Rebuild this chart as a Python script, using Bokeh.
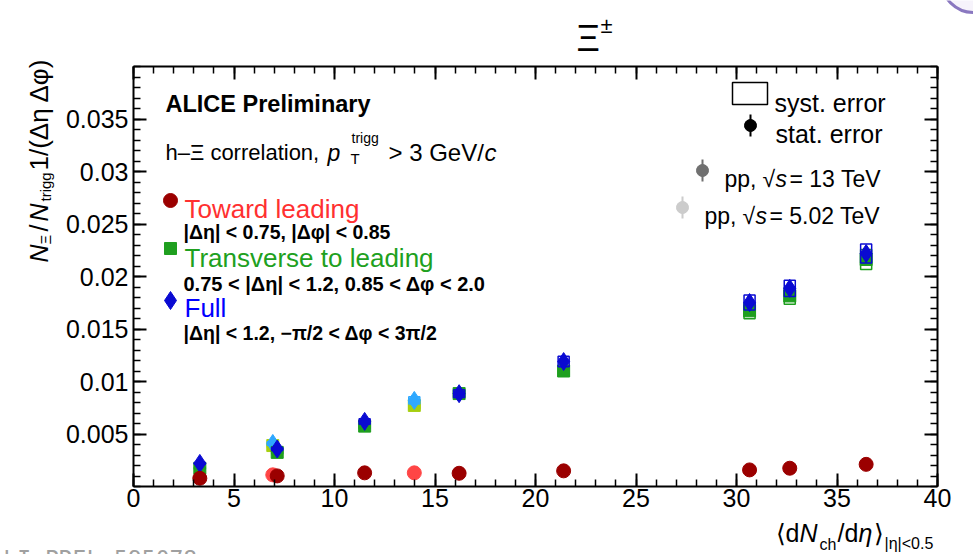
import math

from bokeh.plotting import figure
from bokeh.models import Range1d, LinearAxis, FixedTicker, Label
from bokeh.embed import file_html
from bokeh.resources import INLINE

# <dN_ch/deta> of the multiplicity classes
mult_13 = [3.3, 7.15, 11.5, 16.2, 21.4, 30.65, 32.65, 36.45]
mult_502 = [6.93, 13.97]

# per-trigger Xi yields, pp 13 TeV
toward_13 = [0.00078, 0.00101, 0.00130, 0.00126, 0.00149, 0.00158, 0.00174, 0.00211]
transverse_13 = [0.00173, 0.00325, 0.00575, 0.00885, 0.01100, 0.01673, 0.01815, 0.02162]
full_13 = [0.00220, 0.00357, 0.00620, 0.00884, 0.01190, 0.01752, 0.01887, 0.02219]

# per-trigger Xi yields, pp 5.02 TeV
toward_502 = [0.00111, 0.00130]
transverse_502 = [0.00390, 0.00772]
full_502 = [0.00410, 0.00820]

# statistical uncertainties
toward_13_stat = [0.00005, 0.00005, 0.00005, 0.00005, 0.00006, 0.00007, 0.00007, 0.00008]
transverse_13_stat = [0.00010, 0.00012, 0.00015, 0.00018, 0.00022, 0.00030, 0.00032, 0.00036]
full_13_stat = [0.00012, 0.00014, 0.00018, 0.00022, 0.00026, 0.00034, 0.00036, 0.00040]
toward_502_stat = [0.00005, 0.00006]
transverse_502_stat = [0.00015, 0.00020]
full_502_stat = [0.00016, 0.00022]

# systematic uncertainties
toward_13_syst = [0.00004, 0.00005, 0.00006, 0.00006, 0.00007, 0.00008, 0.00008, 0.00010]
transverse_13_syst = [0.00008, 0.00015, 0.00026, 0.00040, 0.00050, 0.00075, 0.00080, 0.00095]
full_13_syst = [0.00009, 0.00015, 0.00026, 0.00037, 0.00050, 0.00072, 0.00078, 0.00090]
toward_502_syst = [0.00005, 0.00006]
transverse_502_syst = [0.00017, 0.00033]
full_502_syst = [0.00017, 0.00034]

x_ticks = [0, 5, 10, 15, 20, 25, 30, 35, 40]
y_ticks = [0.005, 0.01, 0.015, 0.02, 0.025, 0.03, 0.035]

W, H = 973, 554
# pixel box of the axes frame inside the canvas
FL, FR, FT, FB = 133, 937, 66, 486
XMAX, YMAX = 40.0, 0.04

FONT = "Liberation Sans"


def dx(X):
    """canvas pixel column -> data x"""
    return (X - FL) / (FR - FL) * XMAX


def dy(Y):
    """canvas pixel row -> data y"""
    return (FB - Y) / (FB - FT) * YMAX


# the plotting area spans the whole canvas; the axes sit at fixed data positions
p = figure(width=W, height=H, title=None,
           x_range=Range1d(dx(0), dx(W)), y_range=Range1d(dy(H), dy(0)),
           output_backend="svg", toolbar_location=None,
           x_axis_location=None, y_axis_location=None, min_border=0)
p.xgrid.visible = False
p.ygrid.visible = False
p.outline_line_color = None
p.background_fill_color = "white"
p.border_fill_color = "white"

x_minor = [float(v) for v in range(0, 41)]
y_minor = [round(0.001 * k, 3) for k in range(0, 41)]


def make_axis(ticks, minor, at, bounds, labels):
    ax = LinearAxis(ticker=FixedTicker(ticks=ticks, minor_ticks=minor),
                    fixed_location=at, bounds=bounds)
    ax.axis_line_width = 2
    ax.major_tick_line_width = 2
    ax.minor_tick_line_width = 1.5
    ax.major_tick_in = 13
    ax.major_tick_out = 0
    ax.minor_tick_in = 7
    ax.minor_tick_out = 0
    ax.major_label_text_font = FONT
    ax.major_label_text_font_size = "25px"
    ax.major_label_text_color = "black"
    if labels:
        ax.major_label_overrides = {t: f"{t:g}" for t in ticks}
    else:
        ax.major_label_text_color = None
    return ax


bottom = make_axis(x_ticks, x_minor, 0.0, (0, XMAX), True)
bottom.major_label_standoff = 2
left = make_axis(y_ticks, y_minor, 0.0, (0, YMAX), True)
left.major_label_standoff = 5
top = make_axis(x_ticks, x_minor, YMAX, (0, XMAX), False)
right = make_axis(y_ticks, y_minor, XMAX, (0, YMAX), False)
p.add_layout(bottom, "below")
p.add_layout(left, "left")
p.add_layout(top, "above")
p.add_layout(right, "right")


def put(X, Y, text, size, color="black", style="normal", align="left",
        baseline="alphabetic", angle=0.0, font=FONT):
    p.add_layout(Label(x=dx(X), y=dy(Y), text=text, text_font=font,
                       text_font_size=f"{size}px", text_font_style=style,
                       text_color=color, text_align=align,
                       text_baseline=baseline, angle=angle))


# ---- data: systematic boxes, statistical bars, markers ----
series = [
    # x, y, stat, syst, marker, size, colour
    (mult_502, transverse_502, transverse_502_stat, transverse_502_syst, "square", 12, "#a6cf10"),
    (mult_502, full_502, full_502_stat, full_502_syst, "diamond", 18, "#2ea8ff"),
    (mult_502, toward_502, toward_502_stat, toward_502_syst, "circle", 14, "#ff4545"),
    (mult_13, transverse_13, transverse_13_stat, transverse_13_syst, "square", 12, "#1f9f1f"),
    (mult_13, full_13, full_13_stat, full_13_syst, "diamond", 18, "#0a0ad2"),
    (mult_13, toward_13, toward_13_stat, toward_13_syst, "circle", 14, "#9b0000"),
]

for xs, ys, stat, syst, marker, size, color in series:
    p.rect(x=xs, y=ys, width=0.55, height=[2 * s for s in syst],
           fill_color=None, line_color=color, line_width=1.5)
    p.segment(x0=xs, y0=[v - e for v, e in zip(ys, stat)],
              x1=xs, y1=[v + e for v, e in zip(ys, stat)],
              line_color=color, line_width=2)
    p.scatter(x=xs, y=ys, marker=marker, size=size,
              fill_color=color, line_color=color)

# ---- text block, upper left ----
put(165, 103, "ALICE Preliminary", 23.5, style="bold")
put(165, 152, "h\u2013\u039e correlation, ", 22)
put(327, 152, "p", 23, style="italic")
put(350, 158, "T", 15)
put(351, 137, "trigg", 14)
put(388, 152, "> 3 GeV/", 24)
put(484, 152, "c", 24, style="italic")

p.scatter(x=[dx(170)], y=[dy(200)], marker="circle", size=14,
          fill_color="#9b0000", line_color="#9b0000")
put(184, 208, "Toward leading", 26, color="#ff3030")
put(183, 231, "|\u0394\u03b7| < 0.75, |\u0394\u03c6| < 0.85", 19.5, style="bold")

p.scatter(x=[dx(170)], y=[dy(248)], marker="square", size=12,
          fill_color="#1f9f1f", line_color="#1f9f1f")
put(184, 257, "Transverse to leading", 26, color="#20a020")
put(183, 283, "0.75 < |\u0394\u03b7| < 1.2, 0.85 < \u0394\u03c6 < 2.0", 20, style="bold")

p.scatter(x=[dx(170)], y=[dy(300)], marker="diamond", size=18,
          fill_color="#0a0ad2", line_color="#0a0ad2")
put(184, 307, "Full", 26, color="#0000ff")
put(183, 332, "|\u0394\u03b7| < 1.2, \u2212\u03c0/2 < \u0394\u03c6 < 3\u03c0/2", 19.5, style="bold")

# ---- key, upper right ----
p.rect(x=[dx(749.5)], y=[dy(93)], width=dx(767) - dx(732), height=dy(82) - dy(104),
       fill_color=None, line_color="black", line_width=1.5)
put(774, 102, "syst. error", 25)

key_pts = [(750, 125, "black"), (702, 170, "#707070"), (682, 207, "#cccccc")]
for X, Y, c in key_pts:
    p.segment(x0=[dx(X)], y0=[dy(Y + 11)], x1=[dx(X)], y1=[dy(Y - 11)],
              line_color=c, line_width=2)
    p.scatter(x=[dx(X)], y=[dy(Y)], marker="circle", size=12,
              fill_color=c, line_color=c)
put(775, 133, "stat. error", 25)
put(724, 178, "pp, ", 23)
put(762, 178, "\u221a", 23)
put(775, 178, "s", 23, style="italic")
put(789, 178, "= 13 TeV", 23)
put(704, 215, "pp, ", 23)
put(742, 215, "\u221a", 23)
put(755, 215, "s", 23, style="italic")
put(769, 215, "= 5.02 TeV", 23)

# ---- title ----
put(576, 38, "\u039e", 36)
put(600, 25, "\u00b1", 22)

# ALICE logo edge, top right
p.scatter(x=[dx(973)], y=[dy(-20)], marker="circle", size=64,
          fill_color="#f6f3fb", line_color="#8a78c0", line_width=3)

# ---- y axis title (rotated, reads upward) ----
up = math.pi / 2
put(38, 262, "N", 25, style="italic", angle=up)
put(45, 244, "\u039e", 15, angle=up)
put(38, 231, "/", 25, angle=up)
put(38, 221, "N", 25, style="italic", angle=up)
put(45, 201, "trigg", 15, angle=up)
put(38, 170, "1/(\u0394\u03b7 \u0394\u03c6)", 26, angle=up)

# ---- x axis title ----
put(775, 532, "\u27e8d", 25)
put(799, 532, "N", 25, style="italic")
put(819, 544, "ch", 16)
put(837, 532, "/d", 25)
put(858, 532, "\u03b7", 25, style="italic")
put(873, 532, "\u27e9", 25)
put(884, 543, "|\u03b7|<0.5", 16)

# ---- record number ----
put(-11, 545, "ALI-PREL-595078", 23, color="#a0a0a0", baseline="top",
    font="DejaVu Sans Mono")

open("out.html", "w").write(file_html(p, INLINE))
